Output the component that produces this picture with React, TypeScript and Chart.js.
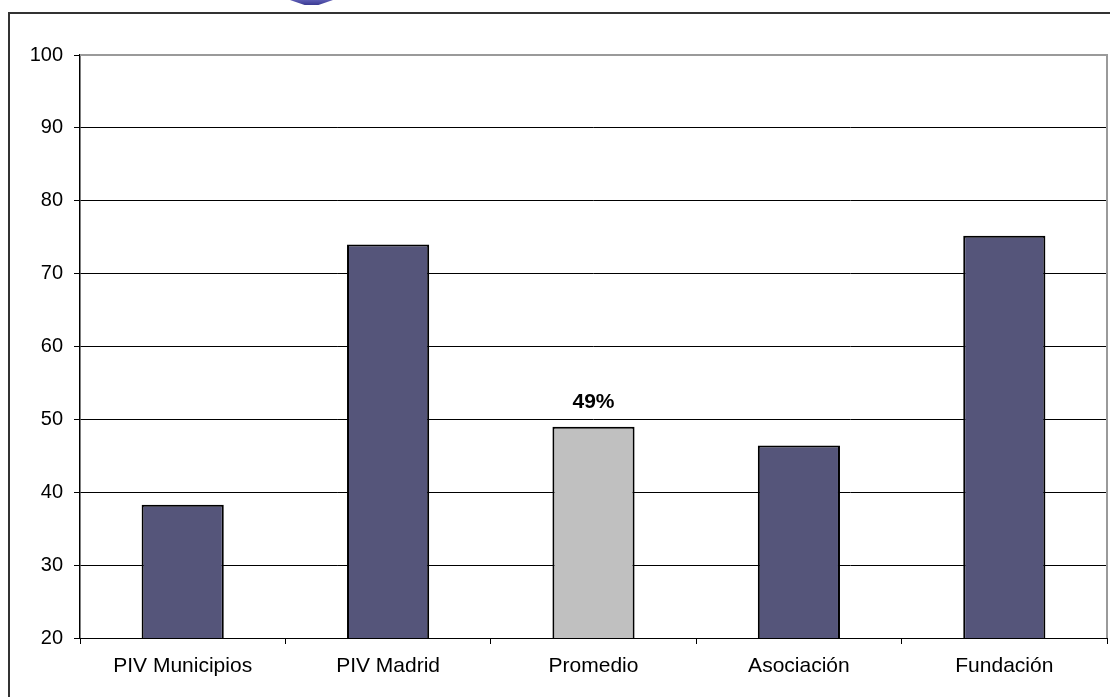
import React, { useEffect, useRef } from "react";
import { Chart, registerables } from "chart.js";

Chart.register(...registerables);

const categories = ["PIV Municipios", "PIV Madrid", "Promedio", "Asociación", "Fundación"];
const values = [38.3, 74, 49, 46.4, 75.2];
const barColors = ["#55557a", "#55557a", "#c0c0c0", "#55557a", "#55557a"];
const valueLabels = ["", "", "49%", "", ""];
const yMin = 20;
const yMax = 100;
const yStep = 10;

const FONT = "'Liberation Sans', Arial, Helvetica, sans-serif";

const decorPlugin = {
  id: "decor",
  beforeDatasetsDraw(chart: any) {
    const { ctx, chartArea } = chart;
    ctx.save();
    ctx.strokeStyle = "#9a9a9a";
    ctx.lineWidth = 2;
    ctx.beginPath();
    ctx.moveTo(chartArea.left, chartArea.top);
    ctx.lineTo(chartArea.right, chartArea.top);
    ctx.lineTo(chartArea.right, chartArea.bottom);
    ctx.stroke();
    ctx.restore();
  },
  afterDatasetsDraw(chart: any) {
    const ctx = chart.ctx;
    const meta = chart.getDatasetMeta(0);
    ctx.save();
    ctx.font = `bold 21px ${FONT}`;
    ctx.fillStyle = "#000";
    ctx.textAlign = "center";
    ctx.textBaseline = "middle";
    meta.data.forEach((el: any, i: number) => {
      if (valueLabels[i]) ctx.fillText(valueLabels[i], el.x, el.y - 24);
    });
    ctx.restore();
  },
};

export default function App() {
  const ref = useRef<HTMLCanvasElement | null>(null);

  useEffect(() => {
    if (!ref.current) return;
    const chart = new Chart(ref.current, {
      type: "bar",
      data: {
        labels: categories,
        datasets: [
          {
            data: values,
            backgroundColor: barColors,
            borderColor: "#000",
            borderWidth: 2,
            borderSkipped: false,
            barPercentage: 0.4,
            categoryPercentage: 1.0,
          },
        ],
      },
      options: {
        responsive: false,
        animation: false,
        layout: { padding: { top: 55, right: 3, left: 0, bottom: 0 } },
        plugins: {
          legend: { display: false },
          tooltip: { enabled: false },
          title: { display: false },
        },
        scales: {
          x: {
            afterFit: (s: any) => {
              s.height = 59;
            },
            grid: {
              display: true,
              offset: true,
              drawOnChartArea: false,
              drawTicks: true,
              tickLength: 6,
              color: "#000",
              tickColor: "#000",
            },
            border: { display: true, color: "#000", width: 1 },
            ticks: {
              color: "#000",
              font: { family: FONT, size: 21 },
              padding: 10,
              maxRotation: 0,
            },
          },
          y: {
            min: yMin,
            max: yMax,
            afterFit: (s: any) => {
              s.width = 80;
            },
            grid: {
              display: true,
              drawTicks: true,
              tickLength: 6,
              color: (c: any) => (c.tick && c.tick.value === yMax ? "rgba(0,0,0,0)" : "#000"),
              tickColor: "#000",
              lineWidth: 1,
            },
            border: { display: true, color: "#000", width: 1.5 },
            ticks: {
              stepSize: yStep,
              color: "#000",
              font: { family: FONT, size: 20 },
              padding: 11,
            },
          },
        },
      },
      plugins: [decorPlugin],
    });
    return () => chart.destroy();
  }, []);

  return (
    <div style={{ position: "fixed", inset: 0, overflow: "hidden", background: "#fff" }}>
      <div
        style={{
          position: "absolute",
          left: 8,
          top: 12,
          width: 1300,
          height: 900,
          border: "2px solid #333",
          boxSizing: "border-box",
        }}
      />
      <div
        style={{
          position: "absolute",
          left: 290,
          top: 0,
          width: 43,
          height: 5,
          clipPath: "polygon(0 0, 100% 0, 66% 100%, 34% 100%)",
          background: "linear-gradient(#5c5cb4, #3a3a92)",
        }}
      />
      <canvas
        ref={ref}
        width={1110}
        height={697}
        style={{ position: "absolute", left: 0, top: 0, width: 1110, height: 697 }}
      />
    </div>
  );
}
